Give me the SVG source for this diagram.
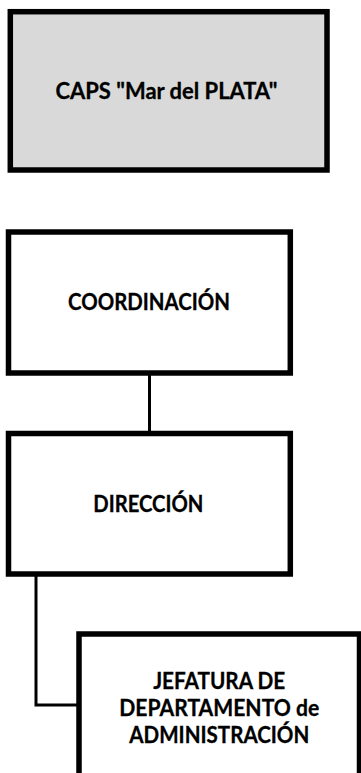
<svg xmlns="http://www.w3.org/2000/svg" width="361" height="773" viewBox="0 0 361 773">
<style>
.box{fill:#ffffff;stroke:#000000;stroke-width:5.5}
.grey{fill:#d9d9d9}
.lbl{font-family:Lato,"Liberation Sans",sans-serif;font-weight:bold;font-size:22px;fill:#000000;text-anchor:middle;stroke:#000000;stroke-width:0.3}
.conn{fill:none;stroke:#000000;stroke-width:3}
</style>
<rect x="0" y="0" width="361" height="773" fill="#ffffff"/>
<g id="connectors">
<line class="conn" x1="149.5" y1="373" x2="149.5" y2="433"/>
<polyline class="conn" points="36,574 36,705 79,705"/>
</g>
<g id="caps">
<rect class="box grey" x="10.3" y="11.7" width="316.7" height="158.3"/>
<text class="lbl" x="166.5" y="99" textLength="222" lengthAdjust="spacingAndGlyphs">CAPS "Mar del PLATA"</text>
</g>
<g id="coordinacion">
<rect class="box" x="8.5" y="232" width="281.8" height="141"/>
<text class="lbl" x="149" y="309.5" textLength="162" lengthAdjust="spacingAndGlyphs">COORDINACIÓN</text>
</g>
<g id="direccion">
<rect class="box" x="8.5" y="433.5" width="281.8" height="140.5"/>
<text class="lbl" x="148.3" y="511.5" textLength="110" lengthAdjust="spacingAndGlyphs">DIRECCIÓN</text>
</g>
<g id="jefatura">
<rect class="box" x="79" y="634" width="280.5" height="160"/>
<text class="lbl" x="219.2" y="689.3" textLength="132" lengthAdjust="spacingAndGlyphs">JEFATURA DE</text>
<text class="lbl" x="219.3" y="716.3" textLength="200" lengthAdjust="spacingAndGlyphs">DEPARTAMENTO de</text>
<text class="lbl" x="219.3" y="743.3" textLength="180" lengthAdjust="spacingAndGlyphs">ADMINISTRACIÓN</text>
</g>
</svg>
